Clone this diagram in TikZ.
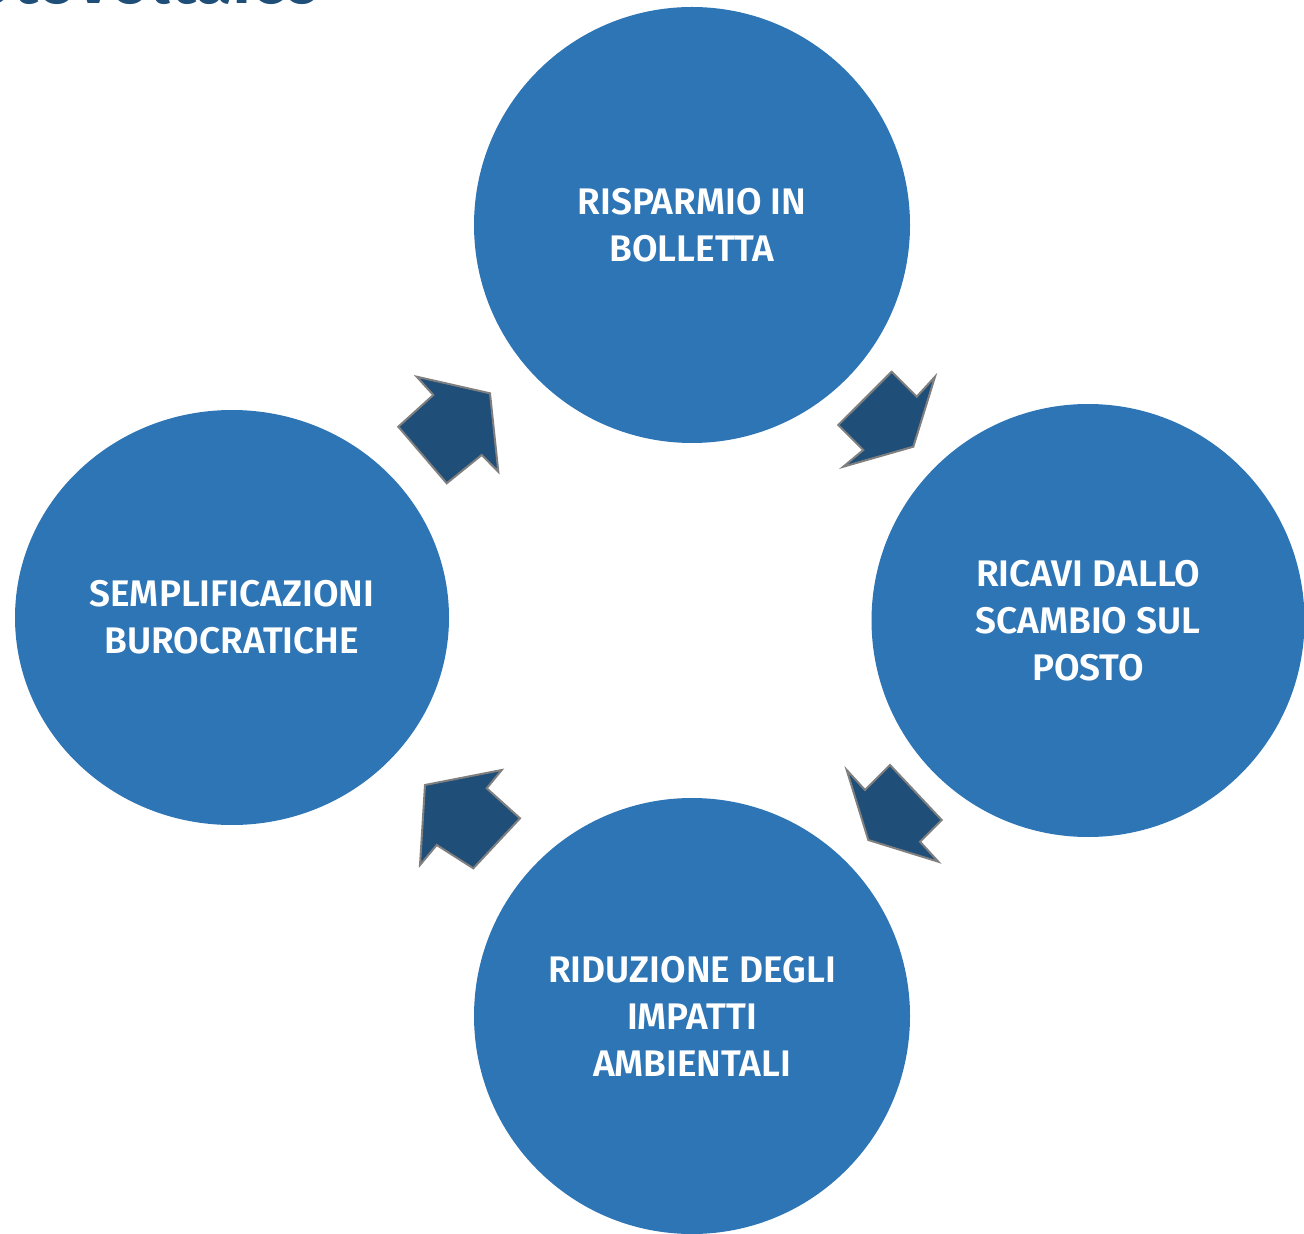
\documentclass[tikz,border=0pt]{standalone}
\usepackage{fontspec}
\setmainfont{Fira Sans}[BoldFont={Fira Sans SemiBold}]
\usetikzlibrary{shapes.geometric}
\definecolor{circblue}{HTML}{2E75B6}
\definecolor{arrblue}{HTML}{1F4E79}
\definecolor{arrgray}{HTML}{7F7F7F}
\begin{document}
\begin{tikzpicture}[x=0.5pt,y=-0.5pt,
  circ/.style={circle,fill=circblue,draw=none,minimum size=436pt/2,inner sep=0pt,
    align=center,text=white,font=\bfseries\fontsize{18.5}{23.5}\selectfont},
  arr/.style={fill=arrblue,draw=arrgray,line width=1pt,line join=miter}]
\useasboundingbox (0,0) rectangle (1304,1234);
\clip (0,0) rectangle (1304,1234);
\node[anchor=base east,inner sep=0pt,text=arrblue,font=\bfseries\fontsize{34}{40}\selectfont] (title) at (323,4) {fotovoltaico};
\node[circ] (top) at (692,225) {RISPARMIO IN\\BOLLETTA};
\node[circ,minimum size=433pt/2] (right) at (1088,620.5) {RICAVI DALLO\\SCAMBIO SUL\\POSTO};
\node[circ] (bottom) at (692,1016) {RIDUZIONE DEGLI\\IMPATTI\\AMBIENTALI};
\node[circ,ellipse,minimum width=434pt/2,minimum height=415pt/2] (left) at (232,617.5) {SEMPLIFICAZIONI\\BUROCRATICHE};
\draw[arr] (416.7,376.7) -- (490,393.3) -- (498.3,471.7) -- (481.7,455) -- (446.7,483.3) -- (398.3,426.7) -- (433.3,395) -- cycle;
\draw[arr] (891.7,371.7) -- (916.7,396.7) -- (935,376.7) -- (913.3,446.7) -- (843.3,466.7) -- (863.3,450) -- (838.3,425) -- cycle;
\draw[arr] (846.7,770) -- (865,790) -- (890,765) -- (941.7,820) -- (920,841.7) -- (938.3,861.7) -- (868.3,840) -- cycle;
\draw[arr] (425,785) -- (501.7,770) -- (486.7,788.3) -- (520,818.3) -- (473.3,868.3) -- (436.7,845) -- (420,865) -- cycle;
\end{tikzpicture}
\end{document}
